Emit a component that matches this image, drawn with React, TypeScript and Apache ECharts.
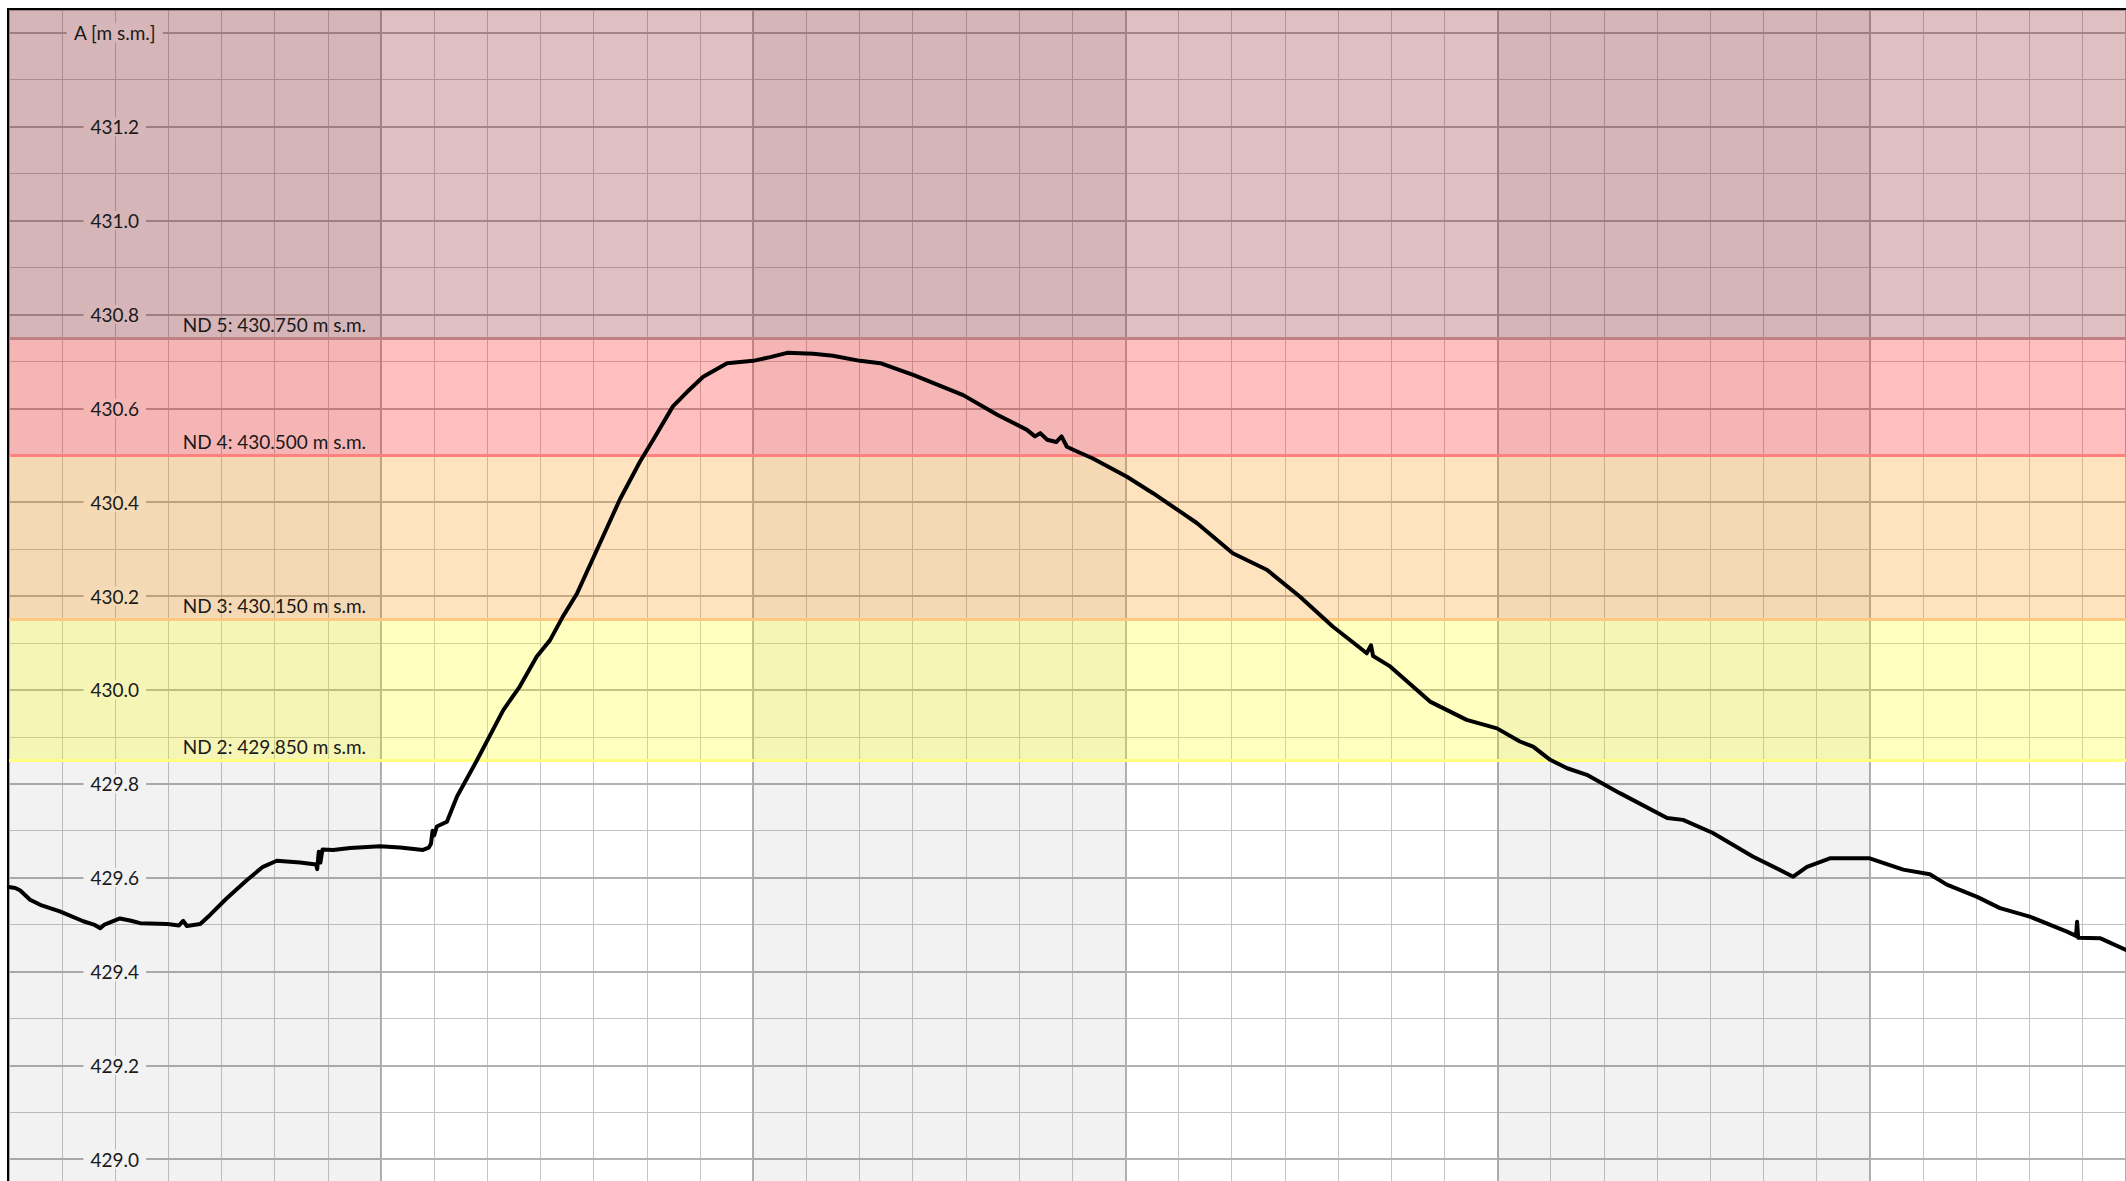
import React, { useEffect, useRef } from "react";
import * as echarts from "echarts";

// Water level thresholds
const levelNames = ["ND 2", "ND 3", "ND 4", "ND 5"];
const levelValues = [429.85, 430.15, 430.5, 430.75];
const levelTop = [430.15, 430.5, 430.75, 431.45];
const bandRgb = [
  [255, 255, 0],
  [255, 144, 0],
  [255, 0, 0],
  [128, 0, 10],
];
const bandAlpha = 0.25;
const lineColors = ["#ffff80", "#ffc880", "#ff8080", "#c08084"];

// alternating week shading (days)
const shadeStarts = [0, 14, 28];
const shadeEnds = [7, 21, 35];
const shadeAlpha = 0.05;

// axis ranges
const xMin = 0;
const xMax = 39.82;
const yMin = 428.8;
const yMax = 431.45;
const yName = "A [m s.m.]";
const yNameTick = 431.4;

// measured series: time in days, level in m s.m.
const days = [
  0.0, 0.12, 0.21, 0.4, 0.59, 0.96, 1.4, 1.6, 1.72, 1.8, 2.09, 2.3, 2.47, 2.98, 3.2, 3.28, 3.35, 3.6,
  3.78, 4.1, 4.48, 4.78, 5.04, 5.48, 5.78, 5.8, 5.83, 5.86, 5.9, 6.1, 6.42, 6.98, 7.36, 7.79, 7.9,
  7.94, 7.97, 8.0, 8.05, 8.24, 8.43, 8.81, 9.3, 9.61, 9.93, 10.18, 10.42, 10.69, 11.06, 11.49, 11.87,
  12.12, 12.49, 12.76, 13.06, 13.51, 14.0, 14.32, 14.64, 15.13, 15.5, 16.01, 16.39, 17.01, 17.95,
  18.59, 19.15, 19.3, 19.4, 19.53, 19.7, 19.8, 19.9, 20.05, 20.39, 21.03, 21.52, 22.08, 22.35, 23.02,
  23.66, 24.28, 24.9, 25.35, 25.54, 25.62, 25.66, 25.98, 26.73, 27.42, 27.99, 28.42, 28.67, 28.99,
  29.31, 29.68, 30.3, 31.19, 31.49, 32.05, 32.8, 33.56, 33.82, 34.25, 35.0, 35.63, 36.13, 36.45,
  37.02, 37.45, 38.01, 38.71, 38.88, 38.9, 38.92, 39.33, 39.82,
];
const levels = [
  429.58, 429.578, 429.573, 429.553, 429.542, 429.528, 429.507, 429.5, 429.492, 429.5, 429.513,
  429.508, 429.503, 429.501, 429.498, 429.508, 429.497, 429.501, 429.52, 429.556, 429.595, 429.623,
  429.636, 429.632, 429.628, 429.618, 429.655, 429.632, 429.66, 429.659, 429.663, 429.667, 429.664,
  429.659, 429.664, 429.672, 429.7, 429.69, 429.709, 429.719, 429.773, 429.851, 429.957, 430.007,
  430.071, 430.106, 430.156, 430.206, 430.298, 430.405, 430.486, 430.533, 430.604, 430.635, 430.667,
  430.696, 430.701, 430.709, 430.718, 430.716, 430.712, 430.701, 430.696, 430.671, 430.628, 430.586,
  430.554, 430.54, 430.547, 430.533, 430.528, 430.54, 430.518, 430.51, 430.493, 430.454, 430.419,
  430.376, 430.355, 430.291, 430.256, 430.199, 430.135, 430.095, 430.078, 430.095, 430.072, 430.05,
  429.975, 429.936, 429.918, 429.89, 429.879, 429.851, 429.833, 429.819, 429.78, 429.727, 429.723,
  429.695, 429.645, 429.602, 429.623, 429.641, 429.641, 429.617, 429.607, 429.585, 429.559, 429.535,
  429.517, 429.485, 429.476, 429.506, 429.472, 429.471, 429.446,
];

const FONT = "Lato";

const rgba = (c: number[], a: number) => `rgba(${c[0]},${c[1]},${c[2]},${a})`;
// label background: what the shaded first week column looks like under each band
const labelBg = (bandIdx: number) => {
  const base = 255 * (1 - shadeAlpha);
  if (bandIdx < 0) return `rgb(${Math.round(base)},${Math.round(base)},${Math.round(base)})`;
  const c = bandRgb[bandIdx].map((k) => Math.round(base * (1 - bandAlpha) + k * bandAlpha));
  return `rgb(${c[0]},${c[1]},${c[2]})`;
};
const bandOf = (v: number) => {
  let idx = -1;
  levelValues.forEach((lv, i) => {
    if (v >= lv - 1e-6) idx = i;
  });
  return idx;
};

export default function App() {
  const ref = useRef<HTMLDivElement>(null);

  useEffect(() => {
    if (!ref.current) return;
    const chart = echarts.init(ref.current, undefined, { renderer: "svg" });

    const seriesData = days.map((d, i) => [d, levels[i]]);
    const gridHeight = (yMax - yMin) * 469.36;

    const rich: any = {};
    for (let i = -1; i < bandRgb.length; i++) {
      rich["b" + (i + 1)] = {
        color: "#1a1a1a",
        fontFamily: FONT,
        fontSize: 19,
        lineHeight: 18,
        backgroundColor: labelBg(i),
        padding: [0, 7],
      };
    }

    const option: any = {
      animation: false,
      grid: { left: 8.8, top: 9.3, right: 0, height: gridHeight, containLabel: false },
      xAxis: [
        {
          type: "value",
          position: "bottom",
          min: xMin,
          max: xMax,
          interval: 1,
          z: 0,
          axisLine: { show: false },
          axisTick: { show: false },
          axisLabel: { show: false },
          splitLine: { show: true, lineStyle: { color: "#c4c4c4", width: 1 } },
        },
        {
          type: "value",
          position: "top",
          min: xMin,
          max: xMax,
          interval: 7,
          z: 0.1,
          axisLine: { show: false },
          axisTick: { show: false },
          axisLabel: { show: false },
          splitLine: { show: true, lineStyle: { color: "#b2b2b2", width: 2 } },
        },
      ],
      yAxis: [
        {
          type: "value",
          position: "left",
          min: yMin,
          max: yMax,
          interval: 0.1,
          z: 0,
          axisLine: { show: false },
          axisTick: { show: false },
          axisLabel: { show: false },
          splitLine: { show: true, lineStyle: { color: "#c4c4c4", width: 1 } },
        },
        {
          type: "value",
          position: "left",
          min: yMin,
          max: yMax,
          interval: 0.2,
          z: 0.1,
          axisLine: { show: false },
          axisTick: { show: false },
          axisLabel: { show: false },
          splitLine: { show: true, lineStyle: { color: "#b2b2b2", width: 2 } },
        },
        {
          type: "value",
          position: "left",
          min: yMin,
          max: yMax,
          interval: 0.2,
          z: 2,
          axisLine: { show: false },
          axisTick: { show: false },
          splitLine: { show: false },
          axisLabel: {
            show: true,
            inside: true,
            showMaxLabel: false,
            showMinLabel: false,
            align: "center",
            margin: 106,
            rich,
            formatter: (v: number) => {
              if (v < 428.9 || v > yNameTick + 0.01) return "";
              const txt = Math.abs(v - yNameTick) < 0.01 ? yName : v.toFixed(1);
              return `{b${bandOf(v) + 1}|${txt}}`;
            },
          },
        },
      ],
      series: [
        {
          type: "line",
          name: "shade",
          xAxisIndex: 0,
          yAxisIndex: 0,
          data: [],
          silent: true,
          markArea: {
            silent: true,
            z: 1,
            itemStyle: { color: `rgba(0,0,0,${shadeAlpha})` },
            data: shadeStarts.map((s, i) => [{ xAxis: s }, { xAxis: shadeEnds[i] }]),
          },
        },
        {
          type: "line",
          name: "bands",
          xAxisIndex: 0,
          yAxisIndex: 0,
          data: [],
          silent: true,
          markArea: {
            silent: true,
            z: 1.1,
            data: levelValues.map((v, i) => [
              { yAxis: v, itemStyle: { color: rgba(bandRgb[i], bandAlpha) } },
              { yAxis: levelTop[i] },
            ]),
          },
          markLine: {
            silent: true,
            z: 1.5,
            symbol: "none",
            animation: false,
            lineStyle: { type: "solid", width: 3 },
            label: {
              show: true,
              position: "insideStartTop",
              distance: [174, 4],
              color: "#1a1a1a",
              fontFamily: FONT,
              fontSize: 19,
            },
            data: levelValues.map((v, i) => ({
              yAxis: v,
              lineStyle: { color: lineColors[i], width: 3, type: "solid" },
              label: { formatter: `${levelNames[i]}: ${v.toFixed(3)} m s.m.` },
            })),
          },
        },
        {
          type: "line",
          name: "A",
          xAxisIndex: 0,
          yAxisIndex: 0,
          z: 3,
          data: seriesData,
          showSymbol: false,
          symbol: "none",
          smooth: false,
          lineStyle: { color: "#000", width: 4, join: "round", cap: "round" },
        },
      ],
      graphic: [
        {
          type: "line",
          z: 10,
          silent: true,
          shape: { x1: 8, y1: 9, x2: 2126, y2: 9 },
          style: { stroke: "#000", lineWidth: 2 },
        },
        {
          type: "line",
          z: 10,
          silent: true,
          shape: { x1: 8, y1: 8, x2: 8, y2: 1262 },
          style: { stroke: "#000", lineWidth: 2 },
        },
      ],
    };

    chart.setOption(option);
    return () => chart.dispose();
  }, []);

  return (
    <div
      style={{
        position: "absolute",
        left: 0,
        top: 0,
        width: 2126,
        height: 1181,
        overflow: "hidden",
        background: "#fff",
      }}
    >
      <div ref={ref} style={{ width: 2126, height: 1262 }} />
    </div>
  );
}
